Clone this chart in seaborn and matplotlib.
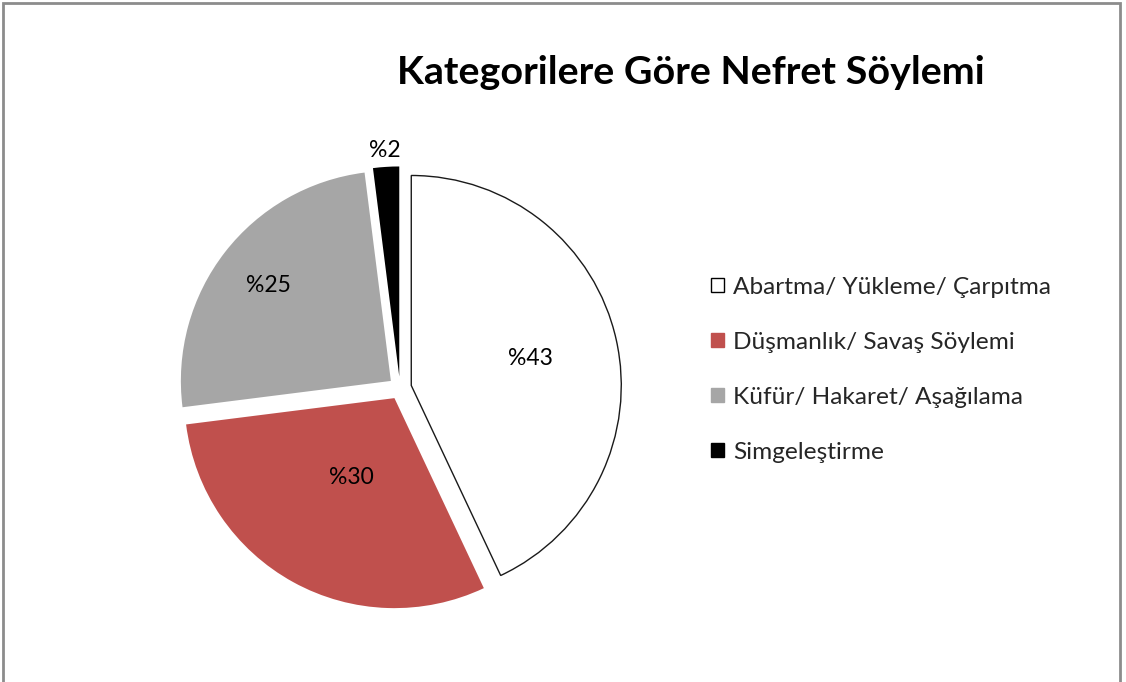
import matplotlib
matplotlib.use("Agg")
import matplotlib.pyplot as plt
import matplotlib.patches as mpatches
import seaborn as sns
import numpy as np

categories = ["Abartma/ Yükleme/ Çarpıtma", "Düşmanlık/ Savaş Söylemi",
              "Küfür/ Hakaret/ Aşağılama", "Simgeleştirme"]
values = [43, 30, 25, 2]
labels = ["%43", "%30", "%25", "%2"]
title = "Kategorilere Göre Nefret Söylemi"

colors = ["#FFFFFF", "#C0504D", "#A6A6A6", "#000000"]
label_dist = [0.58, 0.43, 0.74, 1.08]

sns.set_theme(style="white")
plt.rcParams['font.family'] = ['Lato', 'DejaVu Sans']

W, H = 1126, 682
fig = plt.figure(figsize=(W / 100, H / 100), dpi=100)
fig.patch.set_facecolor("white")

# figure border (bottom edge lies below the canvas)
border = mpatches.Rectangle((3 / W, -0.05), (1120 - 3) / W, 1.05 - 3 / H,
                            transform=fig.transFigure, fill=False,
                            edgecolor="#8C8C8C", linewidth=2)
fig.patches.append(border)

cx, cy, r, half = 400, 388, 210, 235
ax = fig.add_axes([(cx - half) / W, (H - cy - half) / H, 2 * half / W, 2 * half / H])

explode = [0.055] * len(values)
wedges, _ = ax.pie(values, colors=colors, startangle=90, counterclock=False,
                   explode=explode, radius=1.0,
                   wedgeprops=dict(linewidth=0))
wedges[0].set_edgecolor("#1a1a1a")
wedges[0].set_linewidth(1.0)

ax.set_aspect("equal")
lim = half / r
ax.set_xlim(-lim, lim)
ax.set_ylim(-lim, lim)
ax.axis("off")

for w, lab, d, e in zip(wedges, labels, label_dist, explode):
    ang = np.deg2rad((w.theta1 + w.theta2) / 2)
    x = (d + e) * np.cos(ang)
    y = (d + e) * np.sin(ang)
    ax.text(x, y, lab, ha="center", va="center", fontsize=16.5, color="black")

fig.text(691 / W, 1 - 73 / H, title, ha="center", va="center",
         fontsize=28.4, fontweight="bold", color="black")

handles = [mpatches.Patch(facecolor=c, edgecolor=("black" if c == "#FFFFFF" else c),
                          linewidth=1) for c in colors]
leg = fig.legend(handles, categories, loc="upper left",
                 bbox_to_anchor=(701 / W, 1 - 267 / H), frameon=False,
                 fontsize=17.6, labelspacing=1.39, handlelength=0.55,
                 handleheight=0.55, handletextpad=0.37, borderaxespad=0)

fig.savefig("out.png", dpi=100, facecolor="white")
